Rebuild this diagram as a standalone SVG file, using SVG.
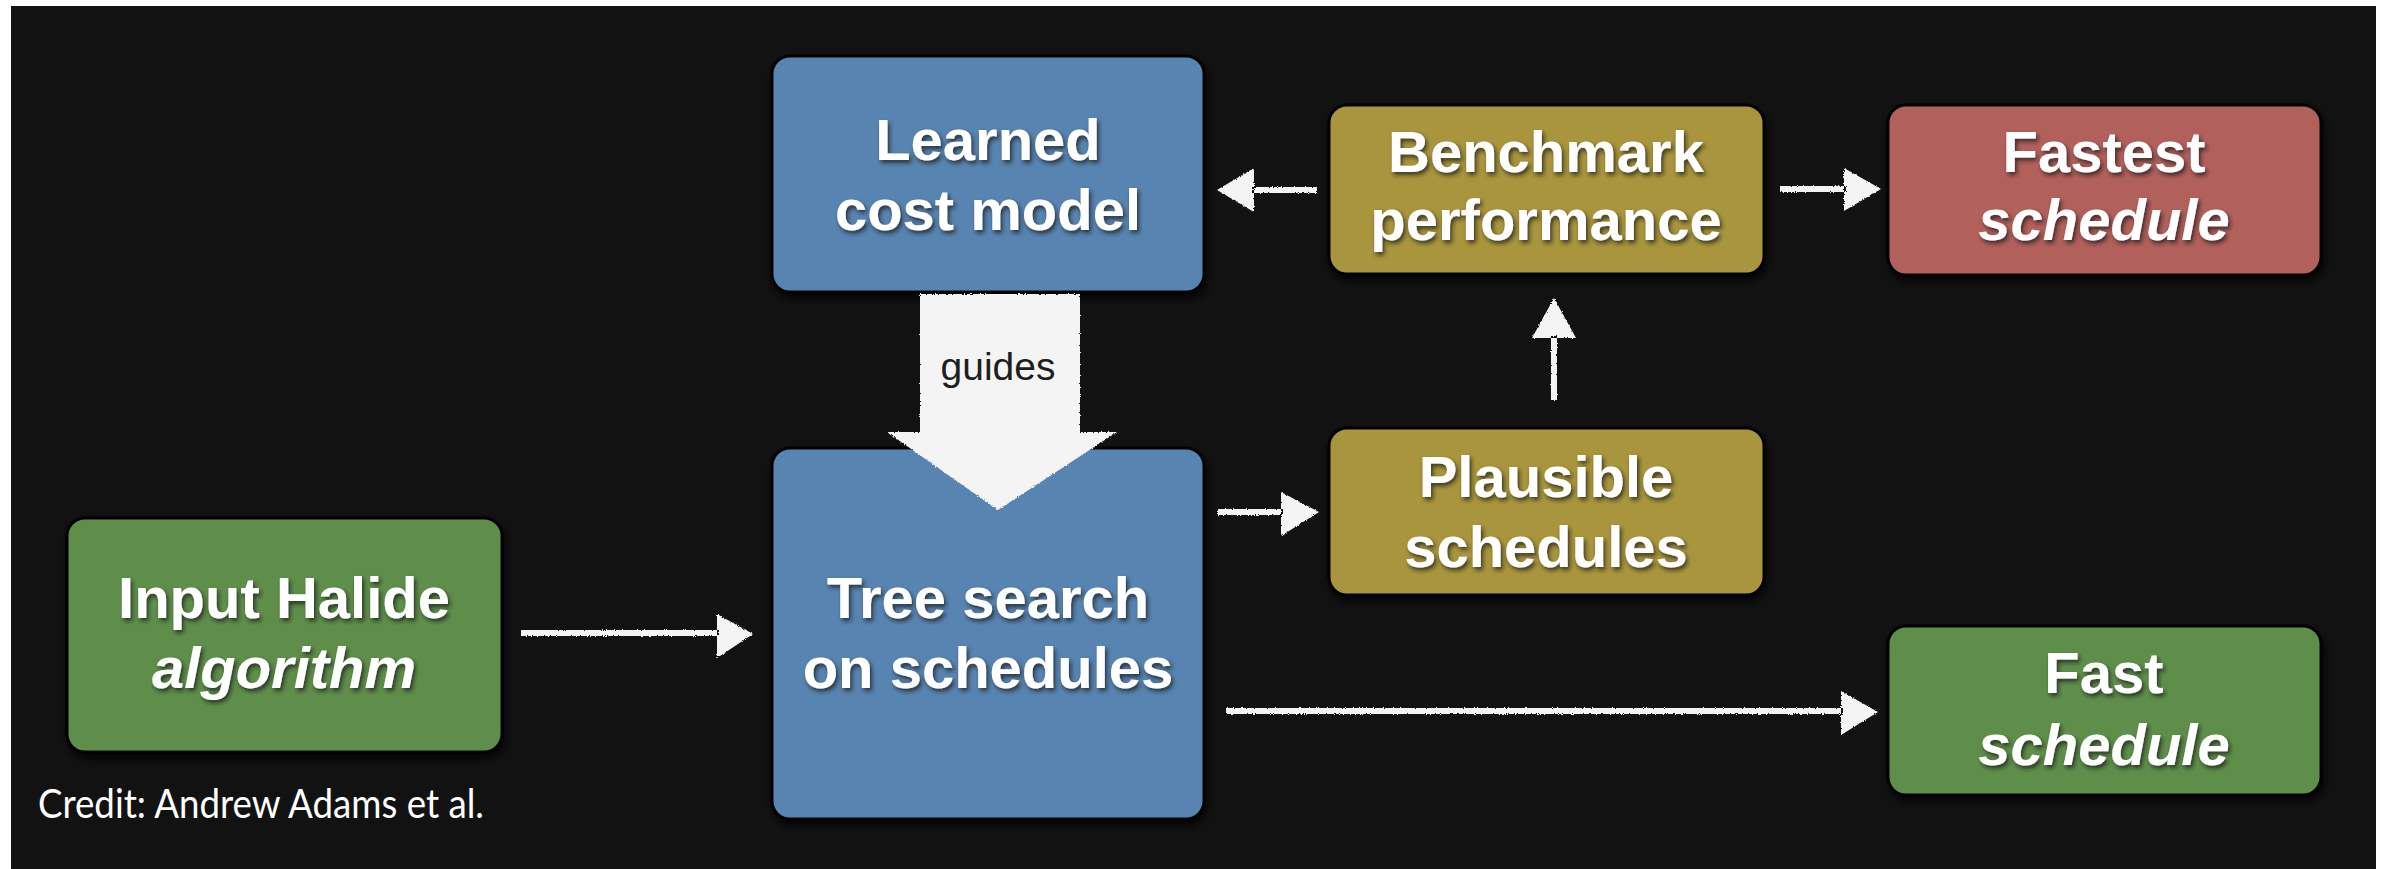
<svg xmlns="http://www.w3.org/2000/svg" width="2387" height="869" viewBox="0 0 2387 869">
  <defs>
    <style>
      .box { stroke: #050505; stroke-width: 3; filter: url(#boxShadow); }
      .blue { fill: #5984b1; }
      .olive { fill: #a9953e; }
      .red { fill: #b2605b; }
      .green { fill: #5f8e4b; }
      .label { font-family: "Liberation Sans", Arial, sans-serif; font-weight: bold; font-size: 58px; fill: #ffffff; text-anchor: middle; filter: url(#textShadow); }
      .it { font-style: italic; }
      .chalk { fill: #f4f4f4; filter: url(#chalk); }
      .credit { font-family: Lato, "Open Sans", sans-serif; font-size: 40px; fill: #ffffff; }
      .guides { font-family: "Liberation Sans", Arial, sans-serif; font-size: 39px; fill: #1e1e1e; text-anchor: middle; }
    </style>
    <filter id="boxShadow" x="-10%" y="-10%" width="125%" height="130%">
      <feDropShadow dx="2" dy="5" stdDeviation="4" flood-color="#000000" flood-opacity="0.8"/>
    </filter>
    <filter id="textShadow" x="-10%" y="-20%" width="125%" height="150%">
      <feDropShadow dx="2" dy="3" stdDeviation="2" flood-color="#1a1a1a" flood-opacity="0.75"/>
    </filter>
    <filter id="chalk" x="-10%" y="-30%" width="120%" height="160%">
      <feTurbulence type="fractalNoise" baseFrequency="0.9" numOctaves="2" seed="4" result="noise"/>
      <feDisplacementMap in="SourceGraphic" in2="noise" scale="3" xChannelSelector="R" yChannelSelector="G"/>
    </filter>
  </defs>

  <!-- page and dark slide background -->
  <rect x="0" y="0" width="2387" height="869" fill="#ffffff"/>
  <rect x="11" y="6" width="2365" height="863" fill="#121212"/>

  <!-- nodes -->
  <g id="learned-cost-model">
    <rect class="box blue" x="772" y="56" width="432" height="236" rx="18"/>
    <text class="label" x="988" y="160">Learned</text>
    <text class="label" x="988" y="230">cost model</text>
  </g>

  <g id="benchmark-performance">
    <rect class="box olive" x="1329" y="105" width="435" height="169" rx="18"/>
    <text class="label" x="1546" y="172">Benchmark</text>
    <text class="label" x="1546" y="240">performance</text>
  </g>

  <g id="fastest-schedule">
    <rect class="box red" x="1888" y="105" width="433" height="170" rx="18"/>
    <text class="label" x="2104" y="172">Fastest</text>
    <text class="label it" x="2104" y="240">schedule</text>
  </g>

  <g id="plausible-schedules">
    <rect class="box olive" x="1329" y="428" width="435" height="167" rx="18"/>
    <text class="label" x="1546" y="497">Plausible</text>
    <text class="label" x="1546" y="567">schedules</text>
  </g>

  <g id="tree-search">
    <rect class="box blue" x="772" y="448" width="432" height="371" rx="18"/>
    <text class="label" x="988" y="618">Tree search</text>
    <text class="label" x="988" y="688">on schedules</text>
  </g>

  <g id="input-halide">
    <rect class="box green" x="67" y="518" width="435" height="234" rx="18"/>
    <text class="label" x="284" y="618">Input Halide</text>
    <text class="label it" x="284" y="688">algorithm</text>
  </g>

  <g id="fast-schedule">
    <rect class="box green" x="1888" y="626" width="433" height="169" rx="18"/>
    <text class="label" x="2104" y="693">Fast</text>
    <text class="label it" x="2104" y="765">schedule</text>
  </g>

  <!-- connectors -->
  <g id="connectors">
    <!-- guides: block arrow from cost model into tree search -->
    <g id="guides-arrow">
      <path class="chalk" d="M920,294 L1080,294 L1080,432 L1117,432 L998,510 L887,432 L920,432 Z"/>
      <text class="guides" x="998" y="380">guides</text>
    </g>

    <!-- benchmark -> learned cost model -->
    <path class="chalk" d="M1317,187 L1252,187 L1252,193 L1317,193 Z M1217,190 L1254,168 L1254,212 Z"/>
    <!-- benchmark -> fastest schedule -->
    <path class="chalk" d="M1780,186 L1846,186 L1846,192 L1780,192 Z M1881,189 L1844,168 L1844,211 Z"/>
    <!-- plausible -> benchmark -->
    <path class="chalk" d="M1551,400 L1551,336 L1557,336 L1557,400 Z M1554,298 L1532,338 L1576,338 Z"/>
    <!-- tree search -> plausible -->
    <path class="chalk" d="M1218,509 L1283,509 L1283,515 L1218,515 Z M1319,512 L1281,492 L1281,536 Z"/>
    <!-- input -> tree search -->
    <path class="chalk" d="M521,630 L719,630 L719,636 L521,636 Z M753,634 L717,614 L717,658 Z"/>
    <!-- tree search -> fast schedule -->
    <path class="chalk" d="M1226,708 L1843,708 L1843,714 L1226,714 Z M1878,712 L1841,691 L1841,735 Z"/>
  </g>

  <!-- attribution -->
  <text class="credit" x="38" y="818" textLength="446" lengthAdjust="spacingAndGlyphs">Credit: Andrew Adams et al.</text>
</svg>
